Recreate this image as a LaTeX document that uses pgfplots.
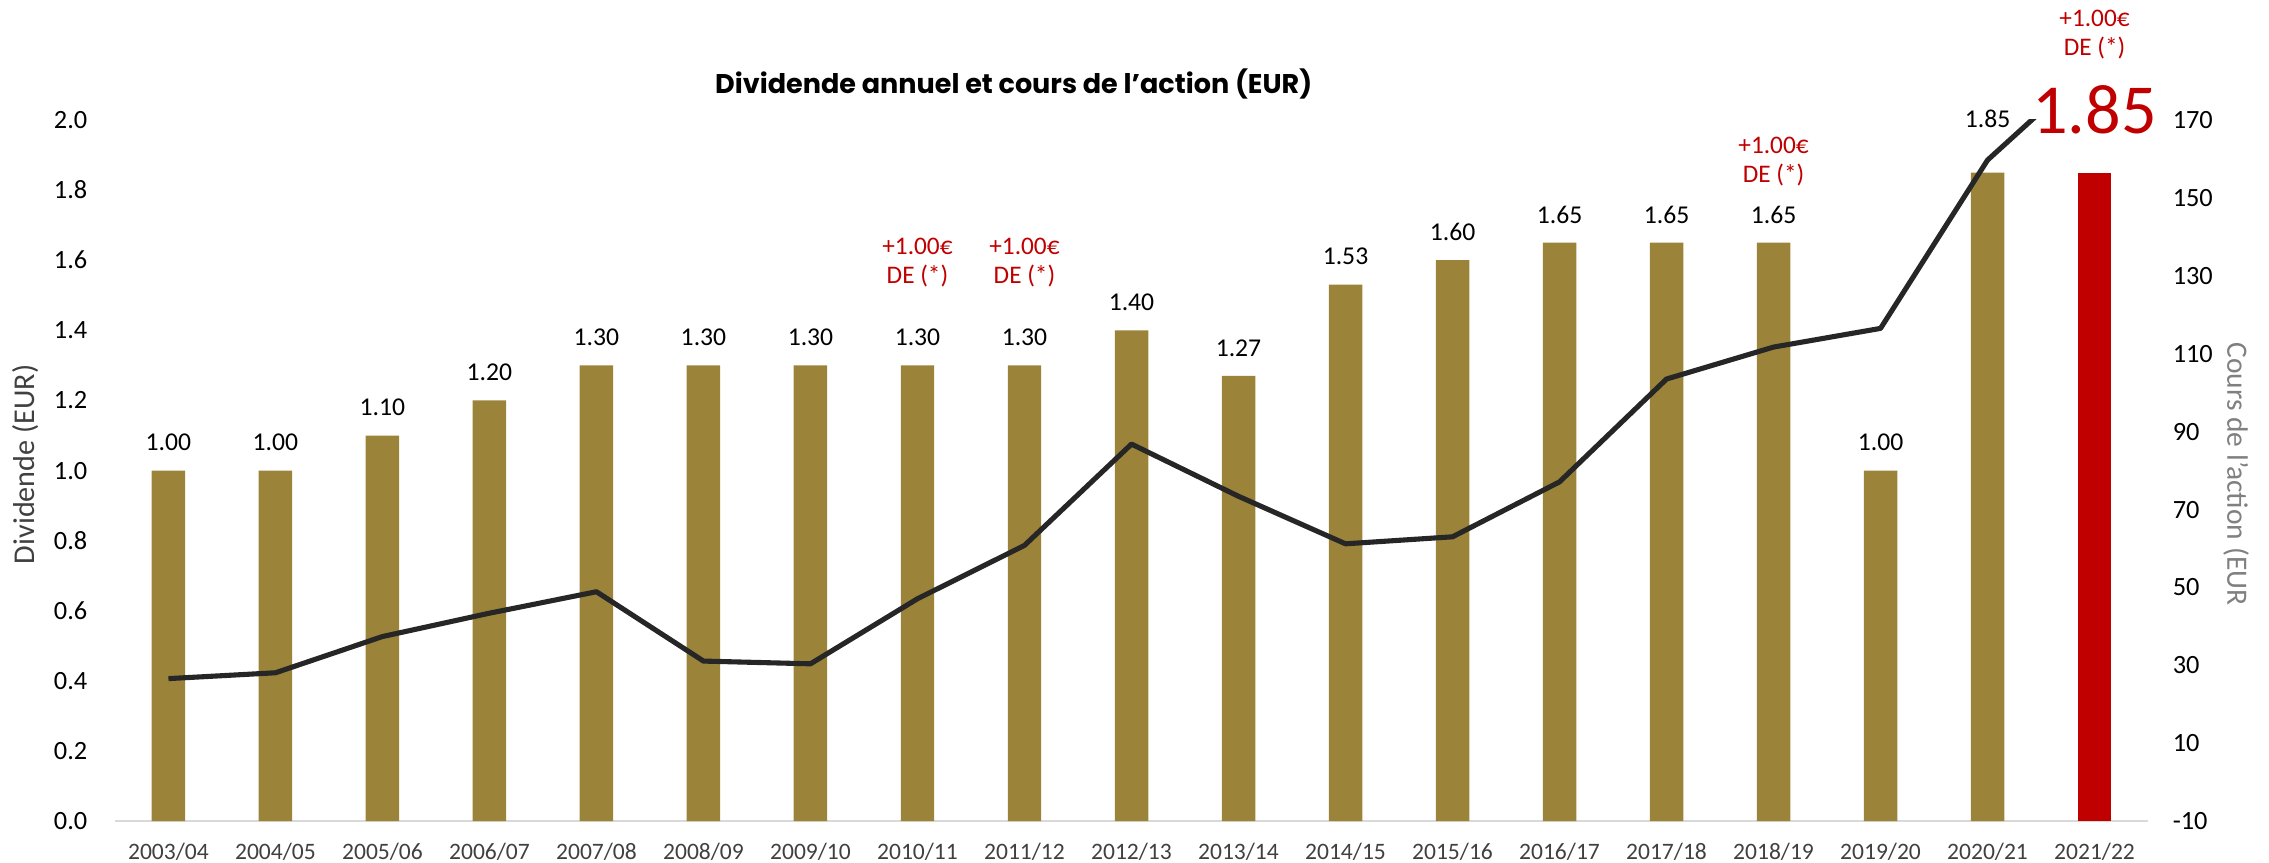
\documentclass[border=0pt]{standalone}
\usepackage{fontspec}
\setmainfont{Carlito}
\newfontfamily\titlefont{Poppins}
\usepackage{pgfplots}
\pgfplotsset{compat=1.18}
\definecolor{barolive}{HTML}{9B833A}
\definecolor{barred}{HTML}{C00000}
\definecolor{linegray}{HTML}{262626}
\definecolor{axisgray}{HTML}{D9D9D9}
\definecolor{labdark}{HTML}{404040}
\definecolor{labgray}{HTML}{808080}
\newcommand{\ann}[1]{\fontsize{7.2}{8.3}\selectfont\color{barred}\begin{tabular}{@{}c@{}}#1\end{tabular}}
\begin{document}
\begin{tikzpicture}
\path[use as bounding box] (-1.15,-0.415) rectangle (21.548,8.215);
\begin{axis}[
  at={(0,0)}, anchor=south west, scale only axis,
  width=20.338cm, height=7.015cm,
  xmin=-0.5, xmax=18.5, ymin=0, ymax=2,
  clip=false,
  axis x line*=bottom, axis y line*=left,
  x axis line style={-, draw=axisgray, line width=0.6pt},
  y axis line style={draw=none},
  major tick length=0pt,
  xtick={0,...,18},
  xticklabels={2003/04,2004/05,2005/06,2006/07,2007/08,2008/09,2009/10,2010/11,2011/12,2012/13,2013/14,2014/15,2015/16,2016/17,2017/18,2018/19,2019/20,2020/21,2021/22},
  xticklabel style={anchor=base, yshift=-0.38cm, inner sep=0pt, font=\fontsize{6.7}{8}\selectfont, text=labdark},
  ytick={0,0.2,...,2.0},
  yticklabels={0.0,0.2,0.4,0.6,0.8,1.0,1.2,1.4,1.6,1.8,2.0},
  yticklabel style={anchor=east, xshift=-0.27cm, inner sep=0pt, font=\fontsize{7.5}{8}\selectfont},
  ybar, bar width=0.335cm, bar shift=0pt,
]
\addplot[fill=barolive, draw=none,
  nodes near coords, point meta=explicit symbolic,
  every node near coord/.append style={anchor=center, yshift=0.28cm, font=\fontsize{7.3}{8}\selectfont, text=black}]
coordinates {
(0,1.00) [1.00]
(1,1.00) [1.00]
(2,1.10) [1.10]
(3,1.20) [1.20]
(4,1.30) [1.30]
(5,1.30) [1.30]
(6,1.30) [1.30]
(7,1.30) [1.30]
(8,1.30) [1.30]
(9,1.40) [1.40]
(10,1.27) [1.27]
(11,1.53) [1.53]
(12,1.60) [1.60]
(13,1.65) [1.65]
(14,1.65) [1.65]
(15,1.65) [1.65]
(16,1.00) [1.00]
(17,1.85) []
};
\addplot[fill=barred, draw=none] coordinates {(18,1.85)};
% manual labels
\node[font=\fontsize{7.3}{8}\selectfont] at (axis cs:17,2.003) {1.85};
\node[font=\fontsize{20}{22}\selectfont, text=barred] at (axis cs:18,2.029) {1.85};
\node at (axis cs:18,2.242) {\ann{+1.00€\\DE (*)}};
\node at (axis cs:7,1.591) {\ann{+1.00€\\DE (*)}};
\node at (axis cs:8,1.591) {\ann{+1.00€\\DE (*)}};
\node at (axis cs:15,1.879) {\ann{+1.00€\\DE (*)}};
% title
\node[font=\titlefont\bfseries\fontsize{7.7}{9}\selectfont] at (axis cs:7.899,2.103) {Dividende annuel et cours de l’action (EUR)};
% axis labels
\node[rotate=90, font=\fontsize{8.6}{10}\selectfont, text=labdark] at (rel axis cs:-0.0438,0.509) {Dividende (EUR)};
\node[rotate=-90, font=\fontsize{8.4}{10}\selectfont, text=labgray] at (rel axis cs:1.0433,0.495) {Cours de l’action (EUR};
\end{axis}
\begin{axis}[
  at={(0,0)}, anchor=south west, scale only axis,
  width=20.338cm, height=7.015cm,
  xmin=-0.5, xmax=18.5, ymin=-10, ymax=170,
  hide x axis,
  axis y line*=right,
  y axis line style={draw=none},
  major tick length=0pt,
  ytick={-10,10,...,170},
  yticklabels={-10,10,30,50,70,90,110,130,150,170},
  yticklabel style={anchor=west, xshift=0.24cm, inner sep=0pt, font=\fontsize{7.5}{8}\selectfont},
]
\addplot[linegray, line width=1.45pt, line join=round] coordinates {
(0,26.6) (1,28.1) (2,37.4) (3,43.4) (4,48.9) (5,31.1) (6,30.4) (7,47.1) (8,60.8) (9,86.8)
(10,73.4) (11,61.2) (12,63.0) (13,77.1) (14,103.5) (15,111.7) (16,116.5) (17,159.7) (18,184.6)
};
\end{axis}
\end{tikzpicture}
\end{document}
